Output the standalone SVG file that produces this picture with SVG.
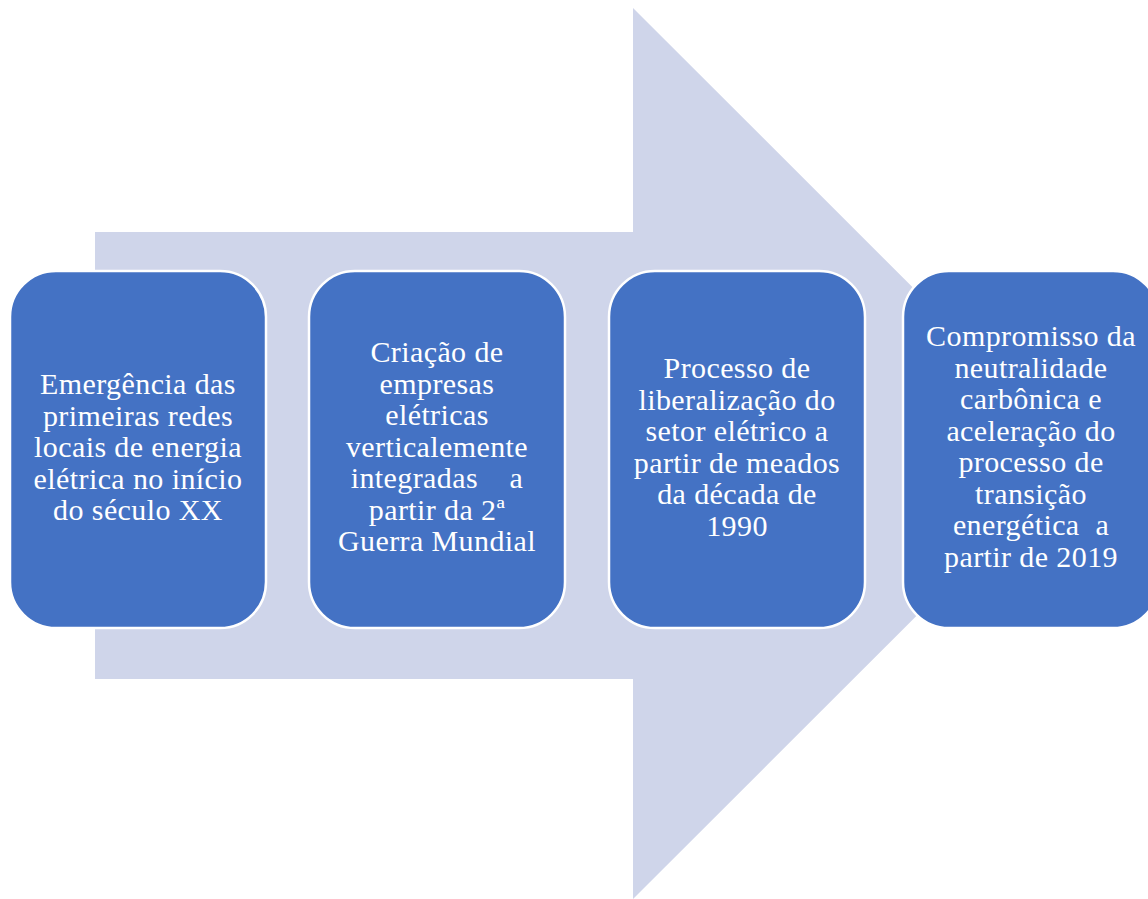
<svg xmlns="http://www.w3.org/2000/svg" width="1148" height="899" viewBox="0 0 1148 899">
  <style>
    .arrow { fill: #CFD5EA; }
    .box { fill: #4472C4; stroke: #FFFFFF; stroke-width: 2.5; }
    .lbl { font-family: 'Liberation Serif', 'DejaVu Serif', serif; font-size: 30px; letter-spacing: 0.4px; fill: #FFFFFF; text-anchor: middle; }
    .pre { white-space: pre; }
  </style>
  <!-- background block arrow -->
  <polygon class="arrow" points="95,232 633,232 633,8 1079,453.5 633,899 633,679 95,679"/>
  <g id="step1">
    <rect class="box" x="10" y="271" width="256" height="357" rx="46"/>
    <text class="lbl" font-family="Liberation Serif, DejaVu Serif, serif"><tspan x="138" y="394">Emergência das</tspan><tspan x="138" y="425.5">primeiras redes</tspan><tspan x="138" y="457">locais de energia</tspan><tspan x="138" y="488.5">elétrica no início</tspan><tspan x="138" y="520">do século XX</tspan></text>
  </g>
  <g id="step2">
    <rect class="box" x="309" y="271" width="256" height="357" rx="46"/>
    <text class="lbl" font-family="Liberation Serif, DejaVu Serif, serif"><tspan x="437" y="362">Criação de</tspan><tspan x="437" y="393.5">empresas</tspan><tspan x="437" y="425">elétricas</tspan><tspan x="437" y="456.5">verticalemente</tspan><tspan class="pre" x="437" y="488">integradas    a</tspan><tspan x="437" y="519.5">partir da 2ª</tspan><tspan x="437" y="551">Guerra Mundial</tspan></text>
  </g>
  <g id="step3">
    <rect class="box" x="609" y="271" width="256" height="357" rx="46"/>
    <text class="lbl" font-family="Liberation Serif, DejaVu Serif, serif"><tspan x="737" y="378">Processo de</tspan><tspan x="737" y="409.5">liberalização do</tspan><tspan x="737" y="441">setor elétrico a</tspan><tspan x="737" y="472.5">partir de meados</tspan><tspan x="737" y="504">da década de</tspan><tspan x="737" y="535.5">1990</tspan></text>
  </g>
  <g id="step4">
    <rect class="box" x="903" y="271" width="256" height="357" rx="46"/>
    <text class="lbl" font-family="Liberation Serif, DejaVu Serif, serif"><tspan x="1031" y="346">Compromisso da</tspan><tspan x="1031" y="377.5">neutralidade</tspan><tspan x="1031" y="409">carbônica e</tspan><tspan x="1031" y="440.5">aceleração do</tspan><tspan x="1031" y="472">processo de</tspan><tspan x="1031" y="503.5">transição</tspan><tspan class="pre" x="1031" y="535">energética  a</tspan><tspan x="1031" y="566.5">partir de 2019</tspan></text>
  </g>
  <g id="connectors"/>
</svg>
